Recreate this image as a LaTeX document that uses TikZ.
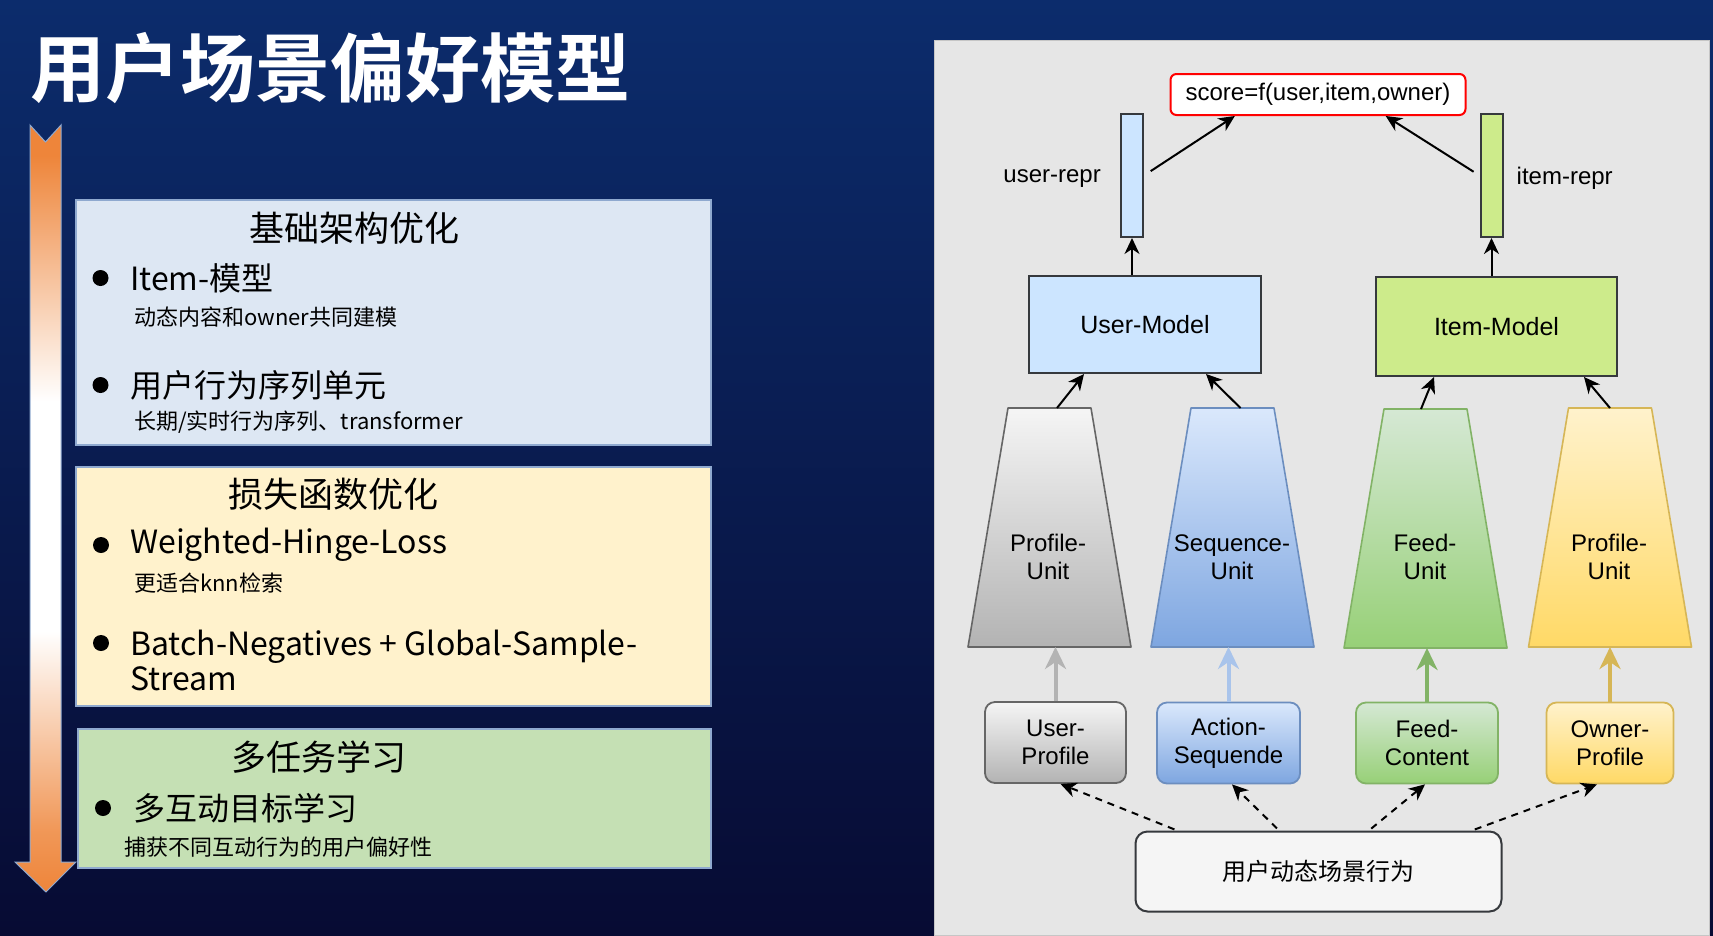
\documentclass[tikz,border=0pt]{standalone}
\usepackage{fontspec}
\setmainfont{Liberation Sans}
\newfontfamily\cjk{Noto Sans CJK SC}[BoldFont={Noto Sans CJK SC Bold}]
\usepackage{tikz}
\usetikzlibrary{arrows.meta,positioning,shapes.geometric,calc}

\definecolor{bgtop}{HTML}{0C2C6C}
\definecolor{bgbot}{HTML}{070B33}
\definecolor{bandorange}{HTML}{EE853A}
\definecolor{boxline}{HTML}{8FA9CF}
\definecolor{infobox}{HTML}{DDE7F3}
\definecolor{lossbox}{HTML}{FFF2CC}
\definecolor{taskbox}{HTML}{C5E0B4}
\definecolor{panel}{HTML}{E6E6E6}
\definecolor{edgedark}{HTML}{36393D}
\definecolor{userblue}{HTML}{CCE5FF}
\definecolor{itemgreen}{HTML}{CDEB8B}
\definecolor{graytop}{HTML}{F5F5F5}
\definecolor{graybot}{HTML}{B3B3B3}
\definecolor{grayline}{HTML}{666666}
\definecolor{bluetop}{HTML}{DAE8FC}
\definecolor{bluebot}{HTML}{7EA6E0}
\definecolor{blueline}{HTML}{6C8EBF}
\definecolor{bluearrow}{HTML}{A9C4EB}
\definecolor{greentop}{HTML}{D5E8D4}
\definecolor{greenbot}{HTML}{97D077}
\definecolor{greenline}{HTML}{82B366}
\definecolor{yellowtop}{HTML}{FFF2CC}
\definecolor{yellowbot}{HTML}{FFD966}
\definecolor{yellowline}{HTML}{D6B656}

\pgfdeclareverticalshading{bandshade}{100bp}{color(0bp)=(bandorange); color(25bp)=(bandorange); color(29bp)=(bandorange!85!white); color(42bp)=(white); color(57bp)=(white); color(73bp)=(bandorange); color(100bp)=(bandorange)}

\begin{document}
\begin{tikzpicture}[
    x=1pt, y=-1pt,
    heading/.style={inner sep=0, font=\cjk\fontsize{35}{40}\selectfont},
    itemtxt/.style={anchor=west, inner sep=0, align=left, font=\cjk\fontsize{32}{35}\selectfont},
    subtxt/.style={anchor=west, inner sep=0, font=\cjk\fontsize{22}{26}\selectfont},
    bullet/.style={fill=black},
    infopanel/.style={draw=boxline, line width=1.2},
    reprbar/.style={draw=edgedark, line width=2, minimum width=22, minimum height=123, inner sep=0},
    reprlabel/.style={inner sep=0, yshift=-3pt, font=\fontsize{24}{28}\selectfont},
    model/.style={draw=edgedark, line width=2, inner sep=0, font=\fontsize{25}{30}\selectfont},
    unitbox/.style={line width=1.6, line join=round},
    unitlabel/.style={align=center, inner sep=0, font=\fontsize{24}{28}\selectfont},
    source/.style={rounded corners=10, line width=1.8, minimum height=81, align=center, inner sep=0, font=\fontsize{24}{28}\selectfont},
    arr/.style={-{Stealth[length=16pt, width=15pt, inset=5pt]}, line width=2, draw=black},
    feed/.style={-{Stealth[length=22pt, width=21pt, inset=7pt]}, line width=4},
    dasharr/.style={arr, dash pattern=on 7pt off 6pt}
]
    \useasboundingbox (0,0) rectangle (1713,935);

    % Background
    \shade[top color=bgtop, bottom color=bgbot] (0,0) rectangle (1713,935);

    % Title
    \node[anchor=west, inner sep=0, text=white, font=\cjk\bfseries\fontsize{75}{80}\selectfont] (title) at (30,68) {用户场景偏好模型};

    % Orange band arrow
    \shadedraw[shading=bandshade, draw=boxline, line width=1]
        (30,125) -- (45.5,142) -- (61,125) -- (61,862) -- (76,862) -- (46,892) -- (15,862) -- (30,862) -- cycle;

    % Left boxes
    \draw[infopanel, fill=infobox] (76,200) rectangle (711,445);
    \draw[infopanel, fill=lossbox] (76,467) rectangle (711,706);
    \draw[infopanel, fill=taskbox] (78,729) rectangle (711,868);

    % Box 1
    \node[heading] (h1) at (354,228) {基础架构优化};
    \fill[bullet] (100.5,278) circle (8);
    \node[itemtxt] (i11) at (130,278) {Item-模型};
    \node[subtxt] (s11) at (134,317) {动态内容和owner共同建模};
    \fill[bullet] (100.5,385) circle (8);
    \node[itemtxt] (i12) at (130,385) {用户行为序列单元};
    \node[subtxt] (s12) at (134,422) {长期/实时行为序列、transformer};

    % Box 2
    \node[heading] (h2) at (333,494) {损失函数优化};
    \fill[bullet] (101,545) circle (8);
    \node[itemtxt] (i21) at (130,545) {Weighted-Hinge-Loss};
    \node[subtxt] (s21) at (134,583) {更适合knn检索};
    \fill[bullet] (101,643) circle (8);
    \node[itemtxt] (i22) at (130,660.5) {Batch-Negatives + Global-Sample-\\Stream};

    % Box 3
    \node[heading] (h3) at (319,757) {多任务学习};
    \fill[bullet] (103,808) circle (8);
    \node[itemtxt] (i31) at (133,808) {多互动目标学习};
    \node[subtxt] (s31) at (124,847) {捕获不同互动行为的用户偏好性};

    % Right panel
    \draw[fill=panel, draw=gray!45] (934,40) rectangle (1709,935);

    % Score and representations
    \node[draw=red, line width=2, rounded corners=6, fill=white, minimum width=295, minimum height=41, inner sep=0, font=\fontsize{24}{28}\selectfont] (score) at (1318,94.5) {score=f(user,item,owner)};
    \node[reprbar, fill=userblue] (ubar) at (1132,175.5) {};
    \node[reprbar, fill=itemgreen] (ibar) at (1491.5,175.5) {};
    \node[reprlabel, left=19pt of ubar] (ulab) {user-repr};
    \node[reprlabel, right=13pt of ibar] (ilab) {item-repr};

    % Models
    \node[model, fill=userblue, minimum width=232, minimum height=97] (umodel) at (1145,324.5) {User-Model};
    \node[model, fill=itemgreen, minimum width=241, minimum height=99] (imodel) at (1496.5,326.5) {Item-Model};

    % Units (trapezoids: top 83 wide, bottom 163 wide, 239 high)
    \coordinate (pu-n) at (1049.5,408);  \coordinate (pu-s) at (1049.5,647);
    \coordinate (su-n) at (1232.5,408);  \coordinate (su-s) at (1232.5,647);
    \coordinate (fu-n) at (1425.5,409);  \coordinate (fu-s) at (1425.5,648);
    \coordinate (ou-n) at (1610,408);    \coordinate (ou-s) at (1610,647);
    \shadedraw[unitbox, top color=graytop, bottom color=graybot, draw=grayline]
        ([xshift=-41.5pt]pu-n) -- ([xshift=41.5pt]pu-n) -- ([xshift=81.5pt]pu-s) -- ([xshift=-81.5pt]pu-s) -- cycle;
    \shadedraw[unitbox, top color=bluetop, bottom color=bluebot, draw=blueline]
        ([xshift=-41.5pt]su-n) -- ([xshift=41.5pt]su-n) -- ([xshift=81.5pt]su-s) -- ([xshift=-81.5pt]su-s) -- cycle;
    \shadedraw[unitbox, top color=greentop, bottom color=greenbot, draw=greenline]
        ([xshift=-41.5pt]fu-n) -- ([xshift=41.5pt]fu-n) -- ([xshift=81.5pt]fu-s) -- ([xshift=-81.5pt]fu-s) -- cycle;
    \shadedraw[unitbox, top color=yellowtop, bottom color=yellowbot, draw=yellowline]
        ([xshift=-41.5pt]ou-n) -- ([xshift=41.5pt]ou-n) -- ([xshift=81.5pt]ou-s) -- ([xshift=-81.5pt]ou-s) -- cycle;
    \node[unitlabel] (pu) at (1048,557) {Profile-\\Unit};
    \node[unitlabel] (su) at (1232,557) {Sequence-\\Unit};
    \node[unitlabel] (fu) at (1425,557) {Feed-\\Unit};
    \node[unitlabel] (ou) at (1609,557) {Profile-\\Unit};

    % Sources
    \node[source, top color=graytop, bottom color=graybot, draw=grayline, minimum width=141] (uprof) at (1055.5,742.5) {User-\\Profile};
    \node[source, top color=bluetop, bottom color=bluebot, draw=blueline, minimum width=143] (aseq) at (1228.5,743) {Action-\\Sequende};
    \node[source, top color=greentop, bottom color=greenbot, draw=greenline, minimum width=142] (fcont) at (1427,743) {Feed-\\Content};
    \node[source, top color=yellowtop, bottom color=yellowbot, draw=yellowline, minimum width=127] (oprof) at (1610,743) {Owner-\\Profile};

    % Scene
    \node[draw=edgedark, line width=2, rounded corners=12, fill=graytop, minimum width=366, minimum height=80, inner sep=0, font=\cjk\fontsize{24}{28}\selectfont] (scene) at (1318.5,871.5) {用户动态场景行为};

    % Edges
    \draw[arr, shorten <=8pt] (ubar.east) -- ($(score.south west)!0.22!(score.south east)$);
    \draw[arr, shorten <=7pt] (ibar.west) -- ($(score.south west)!0.728!(score.south east)$);
    \draw[arr] (umodel.north -| ubar) -- (ubar.south);
    \draw[arr] (imodel.north -| ibar) -- (ibar.south);
    \draw[arr] ([xshift=7.5pt]pu-n) -- ([xshift=56pt]umodel.south west);
    \draw[arr] ([xshift=8pt]su-n) -- ([xshift=-56pt]umodel.south east);
    \draw[arr] ([xshift=-4.5pt]fu-n) -- ([xshift=59pt]imodel.south west);
    \draw[arr] (ou-n) -- ([xshift=-34pt]imodel.south east);
    \draw[feed, draw=graybot] (uprof.north) -- (uprof.north |- pu-s);
    \draw[feed, draw=bluearrow] (aseq.north) -- (aseq.north |- su-s);
    \draw[feed, draw=greenline] (fcont.north) -- (fcont.north |- fu-s);
    \draw[feed, draw=yellowline] (oprof.north) -- (oprof.north |- ou-s);
    \draw[dasharr, shorten <=3pt] ($(scene.north west)!0.116!(scene.north east)$) -- ([xshift=5pt]uprof.south);
    \draw[dasharr, shorten <=3pt] ($(scene.north west)!0.393!(scene.north east)$) -- ([xshift=3.5pt]aseq.south);
    \draw[dasharr, shorten <=3pt] ($(scene.north west)!0.637!(scene.north east)$) -- ([xshift=-2pt]fcont.south);
    \draw[dasharr, shorten <=3pt] ($(scene.north west)!0.917!(scene.north east)$) -- ([xshift=-13pt]oprof.south);

\end{tikzpicture}
\end{document}
